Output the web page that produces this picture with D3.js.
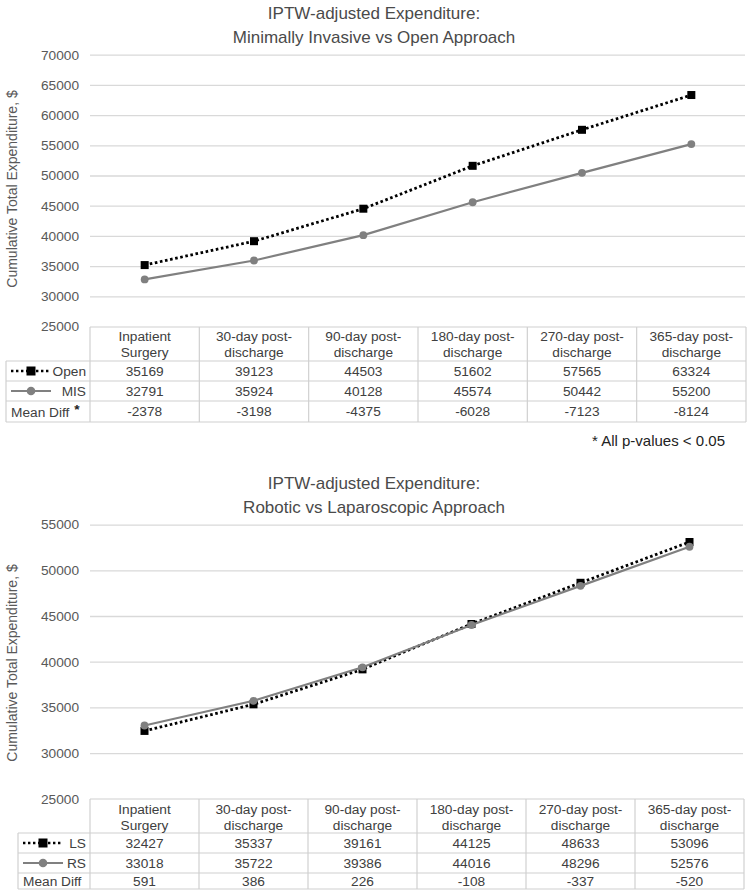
<!DOCTYPE html>
<html><head><meta charset="utf-8">
<script src="https://cdn.jsdelivr.net/npm/d3@7"></script>
<style>body{margin:0;background:#fff}</style>
</head><body>
<svg id="c" width="749" height="894"></svg>
<script>
// ---- data ----
const categories = ["Inpatient Surgery","30-day post-discharge","90-day post-discharge","180-day post-discharge","270-day post-discharge","365-day post-discharge"];
const headerLines = [["Inpatient","Surgery"],["30-day post-","discharge"],["90-day post-","discharge"],["180-day post-","discharge"],["270-day post-","discharge"],["365-day post-","discharge"]];
const openValues = [35169, 39123, 44503, 51602, 57565, 63324];
const misValues  = [32791, 35924, 40128, 45574, 50442, 55200];
const meanDiffTop = [-2378, -3198, -4375, -6028, -7123, -8124];
const lsValues = [32427, 35337, 39161, 44125, 48633, 53096];
const rsValues = [33018, 35722, 39386, 44016, 48296, 52576];
const meanDiffBottom = [591, 386, 226, -108, -337, -520];
const topTicks = [25000, 30000, 35000, 40000, 45000, 50000, 55000, 60000, 65000, 70000];
const bottomTicks = [25000, 30000, 35000, 40000, 45000, 50000, 55000];
const topTitle = ["IPTW-adjusted Expenditure:", "Minimally Invasive vs Open Approach"];
const bottomTitle = ["IPTW-adjusted Expenditure:", "Robotic vs Laparoscopic Approach"];
const yTitle = "Cumulative Total Expenditure, $";
const footnote = "* All p-values < 0.05";

const svg = d3.select("#c");
const FONT = "'Liberation Sans', Arial, sans-serif";
const GRID = "#d9d9d9", BORDER = "#d0d0d0", LABEL = "#595959", TXT = "#404040";
const GRAYS = "#808080";

function drawChart(cfg) {
  const g = svg.append("g");
  const x = d3.scaleBand().domain(categories).range([cfg.x0, cfg.x1]);
  const y = d3.scaleLinear().domain([cfg.ticks[0], cfg.ticks[cfg.ticks.length-1]]).range([cfg.yBottom, cfg.yTop]);
  const cx = c => x(c) + x.bandwidth()/2;

  // title
  cfg.title.forEach((t, i) => {
    g.append("text").attr("x", cfg.titleX).attr("y", cfg.titleY[i])
      .attr("text-anchor", "middle").attr("dominant-baseline", "central")
      .style("font-family", FONT).style("font-size", "17px").style("fill", "#4a4a4a").text(t);
  });

  // axis
  const axis = d3.axisLeft(y).tickValues(cfg.ticks).tickFormat(d3.format("d"))
    .tickSize(-(cfg.x1 - cfg.x0 - 1)).tickPadding(11);
  const ag = g.append("g").attr("transform", `translate(${cfg.x0},0)`).call(axis);
  ag.select(".domain").remove();
  ag.selectAll(".tick line").attr("stroke", GRID).attr("stroke-width", 1.3)
    .attr("opacity", d => d === cfg.ticks[0] ? 0 : 1);
  ag.selectAll(".tick text").style("font-family", FONT).style("font-size", "13.7px").style("fill", LABEL);

  // y title
  g.append("text").attr("transform", `translate(12,${cfg.yTitleY}) rotate(-90)`)
    .attr("text-anchor", "middle").attr("dominant-baseline", "central")
    .style("font-family", FONT).style("font-size", "14px").style("fill", LABEL).text(yTitle);

  // series
  const line = d3.line().x((d, i) => cx(categories[i])).y(d => y(d));
  cfg.series.forEach(s => {
    const path = g.append("path").datum(s.values).attr("d", line).attr("fill", "none");
    if (s.dotted) {
      path.attr("stroke", "#000").attr("stroke-width", 2.8).attr("stroke-dasharray", "2.6 2.6");
    } else {
      path.attr("stroke", GRAYS).attr("stroke-width", 2.2);
    }
    s.values.forEach((v, i) => {
      if (s.dotted) {
        g.append("rect").attr("x", cx(categories[i]) - 4).attr("y", y(v) - 4)
          .attr("width", 8).attr("height", 8).attr("fill", "#000");
      } else {
        g.append("circle").attr("cx", cx(categories[i])).attr("cy", y(v)).attr("r", 3.9).attr("fill", GRAYS);
      }
    });
  });

  // table
  const t = g.append("g");
  const hTop = cfg.headerTop, hH = cfg.headerH;
  const rowTops = [hTop + hH];
  cfg.rowH.forEach((h, i) => rowTops.push(rowTops[i] + h));
  const tableBottom = rowTops[rowTops.length-1];
  const bl = (x1, y1, x2, y2) => t.append("line").attr("x1", x1).attr("y1", y1).attr("x2", x2).attr("y2", y2)
    .attr("stroke", BORDER).attr("stroke-width", 1.2);
  bl(cfg.x0, hTop, cfg.x1, hTop);
  categories.forEach(c => bl(x(c), hTop, x(c), tableBottom));
  bl(cfg.x1, hTop, cfg.x1, tableBottom);
  bl(cfg.legendLeft, rowTops[0], cfg.legendLeft, tableBottom);
  rowTops.forEach(ry => bl(cfg.legendLeft, ry, cfg.x1, ry));

  // header text
  categories.forEach((c, i) => {
    headerLines[i].forEach((ln, j) => {
      t.append("text").attr("x", cx(c)).attr("y", cfg.headerLineY[j])
        .attr("text-anchor", "middle").attr("dominant-baseline", "central")
        .style("font-family", FONT).style("font-size", "13.7px").style("fill", TXT).text(ln);
    });
  });

  // rows
  const rows = [
    {label: cfg.series[0].name, values: cfg.series[0].values, sym: "square"},
    {label: cfg.series[1].name, values: cfg.series[1].values, sym: "circle"},
    {label: "Mean Diff", values: cfg.meanDiff, sym: null}
  ];
  rows.forEach((r, ri) => {
    const cyR = (rowTops[ri] + rowTops[ri+1]) / 2;
    r.values.forEach((v, i) => {
      t.append("text").attr("x", cx(categories[i])).attr("y", cyR)
        .attr("text-anchor", "middle").attr("dominant-baseline", "central")
        .style("font-family", FONT).style("font-size", "13.7px").style("fill", TXT).text(v);
    });
    if (r.sym) {
      const lx0 = cfg.legendSym[0], lx1 = cfg.legendSym[1], mid = (lx0 + lx1) / 2;
      if (r.sym === "square") {
        t.append("line").attr("x1", lx0).attr("x2", lx1).attr("y1", cyR).attr("y2", cyR)
          .attr("stroke", "#000").attr("stroke-width", 2.6).attr("stroke-dasharray", "2.4 2.6");
        t.append("rect").attr("x", mid - 4.5).attr("y", cyR - 4.5).attr("width", 9).attr("height", 9).attr("fill", "#000");
      } else {
        t.append("line").attr("x1", lx0).attr("x2", lx1).attr("y1", cyR).attr("y2", cyR)
          .attr("stroke", GRAYS).attr("stroke-width", 2.2);
        t.append("circle").attr("cx", mid).attr("cy", cyR).attr("r", 4.3).attr("fill", GRAYS);
      }
      t.append("text").attr("x", cfg.legendTextRight).attr("y", cyR)
        .attr("text-anchor", "end").attr("dominant-baseline", "central")
        .style("font-family", FONT).style("font-size", "13.7px").style("fill", TXT).text(r.label);
    } else {
      const tx = t.append("text").attr("x", cfg.meanDiffX).attr("y", cyR)
        .attr("dominant-baseline", "central")
        .style("font-family", FONT).style("font-size", "13.7px").style("fill", TXT);
      tx.append("tspan").text(r.label);
      if (cfg.star) {
        tx.append("tspan").attr("dx", 5).attr("dy", -3).style("font-weight", "bold").style("fill", "#222").text("*");
      }
    }
  });
}

drawChart({
  title: topTitle, titleX: 374, titleY: [13, 37],
  ticks: topTicks, yTop: 54.7, yBottom: 326.5, x0: 90, x1: 746,
  yTitleY: 189,
  series: [{name: "Open", values: openValues, dotted: true}, {name: "MIS", values: misValues, dotted: false}],
  meanDiff: meanDiffTop,
  headerTop: 327, headerH: 34, rowH: [20, 20, 21], headerLineY: [336, 352.5],
  legendLeft: 6, legendSym: [11, 51], legendTextRight: 86, meanDiffX: 11, star: true
});

drawChart({
  title: bottomTitle, titleX: 374, titleY: [483, 507],
  ticks: bottomTicks, yTop: 524.6, yBottom: 798.8, x0: 90, x1: 744,
  yTitleY: 663,
  series: [{name: "LS", values: lsValues, dotted: true}, {name: "RS", values: rsValues, dotted: false}],
  meanDiff: meanDiffBottom,
  headerTop: 799, headerH: 34, rowH: [20, 20, 16], headerLineY: [809.5, 825],
  legendLeft: 18, legendSym: [23, 63], legendTextRight: 86, meanDiffX: 23, star: false
});

svg.append("text").attr("x", 725).attr("y", 440).attr("text-anchor", "end").attr("dominant-baseline", "central")
  .style("font-family", FONT).style("font-size", "15px").style("fill", "#222").text(footnote);
</script>
</body></html>
